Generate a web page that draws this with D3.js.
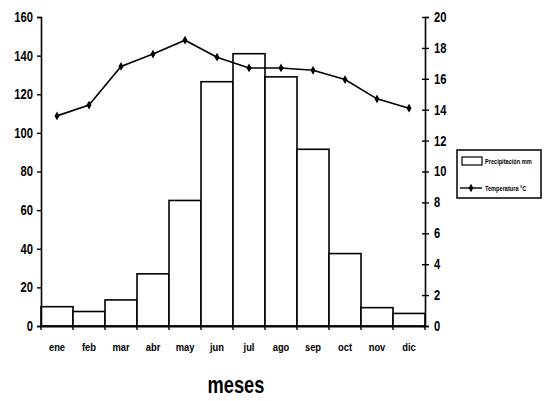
<!DOCTYPE html>
<html>
<head>
<meta charset="utf-8">
<script src="https://cdn.jsdelivr.net/npm/d3@7"></script>
<style>
  body { margin: 0; background: #fff; }
  svg { display: block; }
  text { font-family: "Liberation Sans", Arial, sans-serif; font-weight: bold; fill: #000; }
</style>
</head>
<body>
<svg width="553" height="401"></svg>
<script>
const months = ["ene", "feb", "mar", "abr", "may", "jun", "jul", "ago", "sep", "oct", "nov", "dic"]
const precipitation = [10, 7.5, 13.5, 27, 65, 126.5, 141, 129, 91.5, 37.5, 9.5, 6.5]
const temperature = [13.6, 14.3, 16.8, 17.6, 18.5, 17.4, 16.7, 16.7, 16.55, 15.95, 14.7, 14.1]
const leftTicks = [0, 20, 40, 60, 80, 100, 120, 140, 160]
const rightTicks = [0, 2, 4, 6, 8, 10, 12, 14, 16, 18, 20]

const margin = { left: 41, right: 425, top: 17, bottom: 326 }
const svg = d3.select("svg")

// squeeze text to look like the narrow font of the original
const condense = (sel, factor) => {
  sel.each(function () {
    const w = this.getComputedTextLength()
    d3.select(this).attr("textLength", w * factor).attr("lengthAdjust", "spacingAndGlyphs")
  })
}

const x = d3.scaleBand().domain(months).range([margin.left, margin.right]).padding(0)
const yLeft = d3.scaleLinear().domain([0, 160]).range([margin.bottom, margin.top])
const yRight = d3.scaleLinear().domain([0, 20]).range([margin.bottom, margin.top])

// bars
svg.append("g")
  .selectAll("rect")
  .data(precipitation)
  .enter()
  .append("rect")
  .attr("x", (d, i) => x(months[i]))
  .attr("y", (d) => yLeft(d))
  .attr("width", x.bandwidth())
  .attr("height", (d) => yLeft(0) - yLeft(d))
  .attr("fill", "#fff")
  .attr("stroke", "#000")
  .attr("stroke-width", 1.6)

// left axis
const leftAxis = svg.append("g")
  .attr("transform", `translate(${margin.left},0)`)
  .call(d3.axisLeft(yLeft).tickValues(leftTicks).tickSize(4).tickPadding(4))
leftAxis.select(".domain").attr("stroke-width", 1.6)
leftAxis.selectAll(".tick line").attr("stroke-width", 1.4)
leftAxis.selectAll("text").attr("font-size", 14).call(condense, 0.8)

// right axis
const rightAxis = svg.append("g")
  .attr("transform", `translate(${margin.right},0)`)
  .call(d3.axisRight(yRight).tickValues(rightTicks).tickSize(4).tickPadding(5))
rightAxis.select(".domain").attr("stroke-width", 1.6)
rightAxis.selectAll(".tick line").attr("x1", -3).attr("stroke-width", 1.4)
rightAxis.selectAll("text").attr("font-size", 14).call(condense, 0.8)

// bottom axis
const bottomAxis = svg.append("g")
  .attr("transform", `translate(0,${margin.bottom})`)
  .call(d3.axisBottom(x).tickSize(0).tickPadding(17))
bottomAxis.select(".domain").attr("stroke-width", 1.8)
bottomAxis.selectAll("text").attr("font-size", 11).call(condense, 0.85)
svg.append("g")
  .selectAll("line")
  .data(months.concat(["end"]))
  .enter()
  .append("line")
  .attr("x1", (d, i) => margin.left + i * x.bandwidth())
  .attr("x2", (d, i) => margin.left + i * x.bandwidth())
  .attr("y1", margin.bottom)
  .attr("y2", margin.bottom + 4)
  .attr("stroke", "#000")
  .attr("stroke-width", 1.4)

// temperature line
const line = d3.line()
  .x((d, i) => x(months[i]) + x.bandwidth() / 2)
  .y((d) => yRight(d))
svg.append("path")
  .datum(temperature)
  .attr("d", line)
  .attr("fill", "none")
  .attr("stroke", "#000")
  .attr("stroke-width", 1.6)
svg.append("g")
  .selectAll("path")
  .data(temperature)
  .enter()
  .append("path")
  .attr("d", d3.symbol(d3.symbolDiamond, 22))
  .attr("transform", (d, i) => `translate(${x(months[i]) + x.bandwidth() / 2},${yRight(d)})`)
  .attr("fill", "#000")

// x title
svg.append("text")
  .attr("x", 236)
  .attr("y", 393)
  .attr("text-anchor", "middle")
  .attr("font-size", 24)
  .text("meses")
  .call(condense, 0.76)

// legend
const legend = svg.append("g")
legend.append("rect")
  .attr("x", 457).attr("y", 150).attr("width", 84).attr("height", 48)
  .attr("fill", "#fff").attr("stroke", "#000").attr("stroke-width", 1.5)
legend.append("rect")
  .attr("x", 462).attr("y", 157).attr("width", 20).attr("height", 8)
  .attr("fill", "#fff").attr("stroke", "#000").attr("stroke-width", 1.2)
legend.append("text")
  .attr("x", 485).attr("y", 164).attr("font-size", 8)
  .text("Precipitación mm")
  .call(condense, 0.7)
legend.append("line")
  .attr("x1", 460).attr("x2", 482).attr("y1", 188).attr("y2", 188)
  .attr("stroke", "#000").attr("stroke-width", 1.4)
legend.append("path")
  .attr("d", d3.symbol(d3.symbolDiamond, 20))
  .attr("transform", "translate(471,188)")
legend.append("text")
  .attr("x", 485).attr("y", 191).attr("font-size", 8)
  .text("Temperatura °C")
  .call(condense, 0.7)
</script>
</body>
</html>
